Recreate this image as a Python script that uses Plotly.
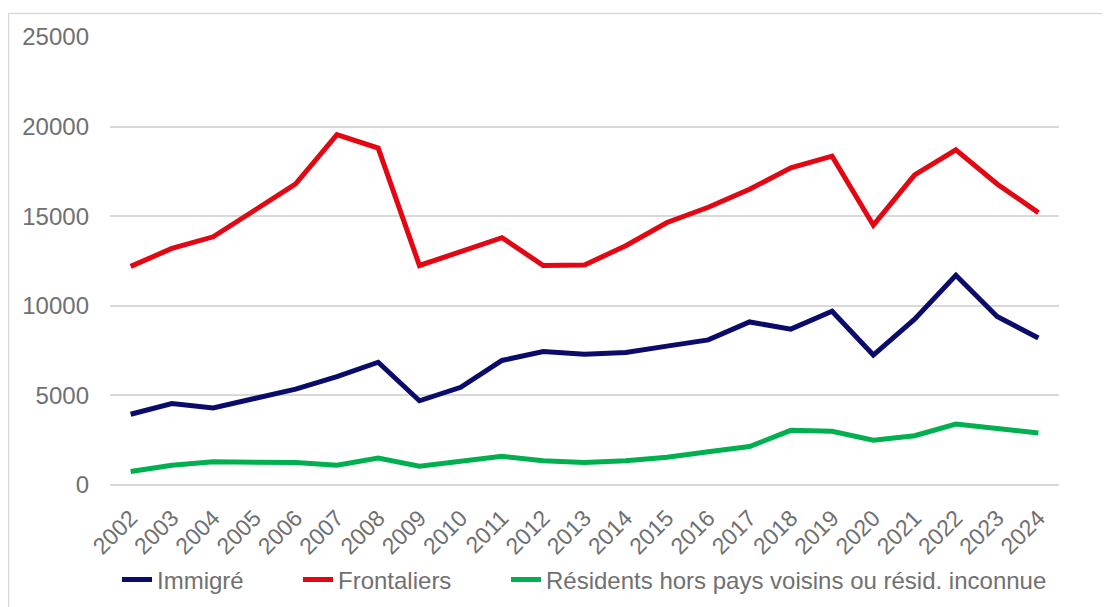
import plotly.graph_objects as go

years = [str(y) for y in range(2002, 2025)]
immigre = [3950, 4550, 4300, 4800, 5350, 6050, 6850, 4700, 5450, 6950, 7450, 7300,
           7400, 7750, 8100, 9100, 8700, 9700, 7250, 9250, 11700, 9400, 8200]
frontaliers = [12200, 13200, 13850, 15350, 16800, 19550, 18800, 12250, 13000, 13800, 12250, 12280,
               13350, 14650, 15500, 16500, 17700, 18350, 14500, 17300, 18700, 16800, 15200]
residents = [750, 1100, 1300, 1250, 1250, 1100, 1500, 1050, 1350, 1600, 1350, 1250,
             1350, 1550, 1850, 2150, 3050, 3000, 2500, 2750, 3400, 3150, 2900]

series = [
    ("Immigré", immigre, "#0B0B6B", "legend"),
    ("Frontaliers", frontaliers, "#E30613", "legend2"),
    ("Résidents hors pays voisins ou résid. inconnue", residents, "#00B050", "legend3"),
]

fig = go.Figure()
for name, vals, col, lg in series:
    fig.add_trace(go.Scatter(x=years, y=vals, name=name, mode="lines",
                             line=dict(color=col, width=5), legend=lg))

# page has an 8px body margin; screen pixel = figure pixel + 8
OFF = 8
W, H = 1102, 599
L, R, T, B = 102, 51, 29, 122
pw, ph = W - L - R, H - T - B

def px_x(p):
    return (p - OFF - L) / pw

def px_y(p):
    return (H - B - (p - OFF)) / ph

def legend_at(screen_x):
    return dict(orientation="h", x=px_x(screen_x), xanchor="left", y=px_y(580),
                yanchor="middle", font=dict(size=24, color="#707070"),
                bgcolor="rgba(0,0,0,0)")

fig.update_layout(
    width=W, height=H,
    margin=dict(l=L, r=R, t=T, b=B, autoexpand=False),
    paper_bgcolor="white", plot_bgcolor="white",
    font=dict(family="Liberation Sans, Arial, sans-serif", size=24, color="#707070"),
    showlegend=True,
    legend=legend_at(117),
    legend2=legend_at(298),
    legend3=legend_at(506),
    xaxis=dict(type="category", tickangle=-45, showgrid=False, showline=False, ticks="",
               range=[-0.5, 22.5], automargin=False, ticklabelstandoff=14,
               tickfont=dict(size=23)),
    yaxis=dict(range=[0, 25000], dtick=5000, tickformat="d", showgrid=True,
               gridcolor="#D9D9D9", gridwidth=1.5,
               zeroline=True, zerolinecolor="#D9D9D9", zerolinewidth=1.5, showline=False,
               ticks="", ticklabelstandoff=20, automargin=False),
    shapes=[dict(type="rect", xref="paper", yref="paper",
                 x0=px_x(8.5), x1=px_x(1130), y0=px_y(640), y1=px_y(13.5),
                 line=dict(color="#D9D9D9", width=1.5), fillcolor="rgba(0,0,0,0)", layer="below")],
)

fig.write_html("out.html")
